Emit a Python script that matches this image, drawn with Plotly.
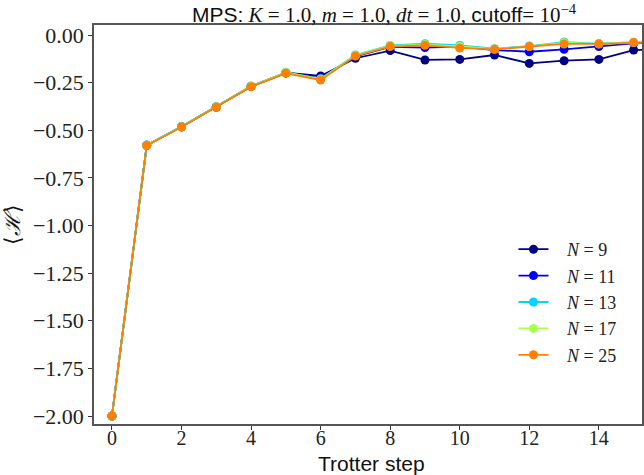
import plotly.graph_objects as go

steps = list(range(17))
N_vals = [9, 11, 13, 17, 25]
N9 = [-2.0, -0.579, -0.482, -0.378, -0.270, -0.198, -0.215, -0.122, -0.082, -0.131, -0.128, -0.105, -0.149, -0.135, -0.128, -0.079, -0.075]
N11 = [-2.0, -0.579, -0.482, -0.378, -0.270, -0.199, -0.228, -0.112, -0.062, -0.066, -0.061, -0.079, -0.088, -0.075, -0.061, -0.044, -0.040]
N13 = [-2.0, -0.578, -0.481, -0.376, -0.268, -0.196, -0.230, -0.105, -0.055, -0.046, -0.055, -0.072, -0.058, -0.037, -0.045, -0.038, -0.035]
N17 = [-2.0, -0.579, -0.482, -0.377, -0.269, -0.197, -0.232, -0.107, -0.057, -0.050, -0.060, -0.074, -0.060, -0.041, -0.046, -0.039, -0.036]
N25 = [-2.0, -0.580, -0.483, -0.379, -0.271, -0.201, -0.236, -0.110, -0.061, -0.054, -0.068, -0.075, -0.061, -0.047, -0.047, -0.040, -0.037]
series = [N9, N11, N13, N17, N25]
colors = ["#000080", "#0000F1", "#00D4FF", "#A7FF50", "#FF7F00"]
x_ticks = [0, 2, 4, 6, 8, 10, 12, 14]
y_ticks = [0.0, -0.25, -0.5, -0.75, -1.0, -1.25, -1.5, -1.75, -2.0]

SERIF = "Liberation Serif"
SANS = "Liberation Sans"

fig = go.Figure()
for n, ys, c in zip(N_vals, series, colors):
    fig.add_trace(go.Scatter(
        x=steps, y=ys, mode="lines+markers",
        name=f"&nbsp;&nbsp;&nbsp;<i>N</i>&nbsp;=&nbsp;{n}",
        line=dict(color=c, width=1.8),
        marker=dict(color=c, size=9),
    ))

W, H = 644, 475
L, R, T, B = 94, 0, 25, 51

fig.update_layout(
    width=W, height=H,
    margin=dict(l=L, r=R, t=T, b=B),
    paper_bgcolor="white", plot_bgcolor="white",
    font=dict(family=SERIF, size=19, color="#222"),
    title=dict(
        text=("<span style='font-family:Liberation Sans'>MPS:</span> <i>K</i> = 1.0, <i>m</i> = 1.0, "
              "<i>dt</i> = 1.0, <span style='font-family:Liberation Sans'>cutoff</span>= 10<sup>−4</sup>"),
        x=384 / W, xanchor="center", y=1 - 15 / H, yanchor="middle",
        font=dict(family=SERIF, size=21, color="#111"),
    ),
    xaxis=dict(
        range=[-0.516, 15.24], tickvals=x_ticks, ticktext=[str(v) for v in x_ticks],
        showgrid=False, zeroline=False, showline=True, mirror=True,
        linecolor="#555", linewidth=1.5, ticks="outside", ticklen=4, tickcolor="#333",
        tickfont=dict(family=SERIF, size=20, color="#222"),
        ticklabelstandoff=-9,
    ),
    yaxis=dict(
        range=[-2.042, 0.0525], tickvals=y_ticks,
        ticktext=[("−" if v < 0 else "") + f"{abs(v):.2f}" for v in y_ticks],
        showgrid=False, zeroline=False, showline=True, mirror=True,
        linecolor="#555", linewidth=1.5, ticks="outside", ticklen=4, tickcolor="#333",
        tickfont=dict(family=SERIF, size=22, color="#222"),
        title=dict(text="⟨<i>ℋ</i>⟩", font=dict(family=SERIF, size=22, color="#111"), standoff=8),
    ),
    legend=dict(
        x=(515 - L) / (W - L - R), xanchor="left",
        y=1 - (231 - T) / (H - T - B), yanchor="top",
        bgcolor="rgba(255,255,255,0)", borderwidth=0,
        font=dict(family=SERIF, size=18, color="#222"),
        tracegroupgap=0,
    ),
    showlegend=True,
    annotations=[dict(
        text="Trotter step", xref="paper", yref="paper",
        x=(373 - L) / (W - L - R), y=-(463 - (H - B)) / (H - T - B),
        xanchor="center", yanchor="middle", showarrow=False,
        font=dict(family=SANS, size=21, color="#111"),
    )],
)

fig.write_html("out.html", post_script="document.body.style.margin='0';",
               config={"displayModeBar": False})
